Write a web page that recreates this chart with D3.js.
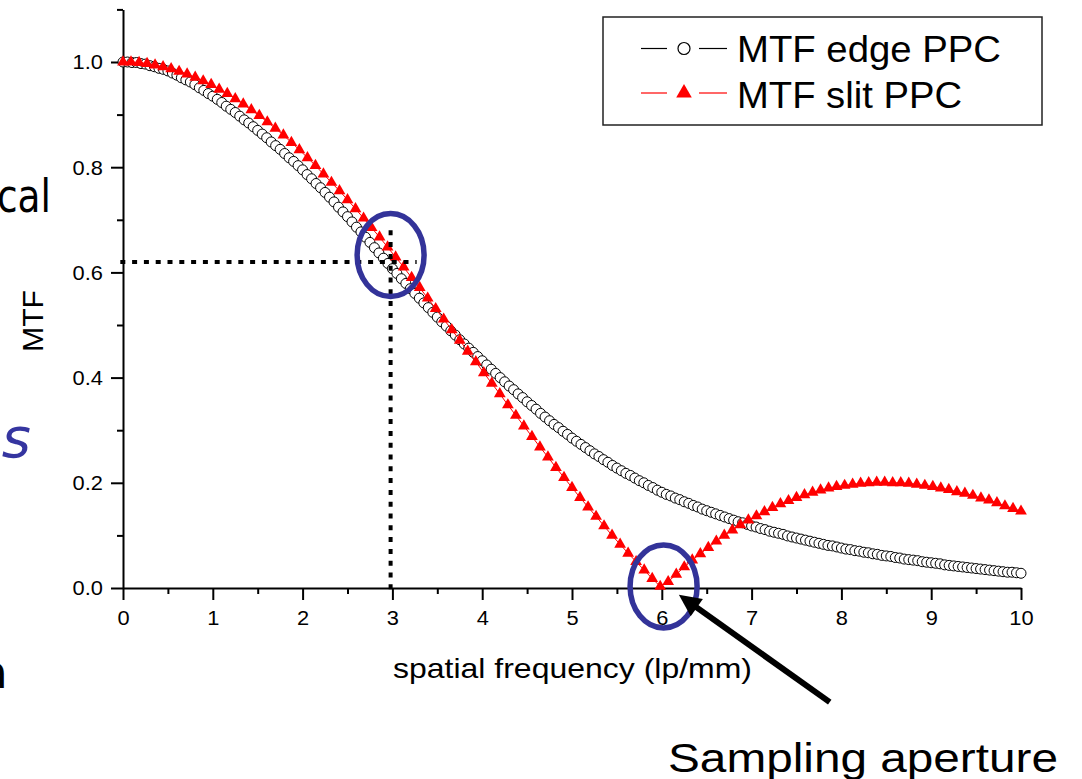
<!DOCTYPE html>
<html><head><meta charset="utf-8">
<script src="https://cdn.jsdelivr.net/npm/d3@7"></script>
<style>body{margin:0;background:#fff;} svg{display:block;}</style>
</head><body>
<svg id="chart" width="1082" height="779"></svg>
<script>
// ---------- data ----------
// edge-method MTF: sampled every 0.05 lp/mm
const edgeFreq = [0, 0.05, 0.1, 0.15, 0.2, 0.25, 0.3, 0.35, 0.4, 0.45,
  0.5, 0.55, 0.6, 0.65, 0.7, 0.75, 0.8, 0.85, 0.9, 0.95,
  1, 1.05, 1.1, 1.15, 1.2, 1.25, 1.3, 1.35, 1.4, 1.45,
  1.5, 1.55, 1.6, 1.65, 1.7, 1.75, 1.8, 1.85, 1.9, 1.95,
  2, 2.05, 2.1, 2.15, 2.2, 2.25, 2.3, 2.35, 2.4, 2.45,
  2.5, 2.55, 2.6, 2.65, 2.7, 2.75, 2.8, 2.85, 2.9, 2.95,
  3, 3.05, 3.1, 3.15, 3.2, 3.25, 3.3, 3.35, 3.4, 3.45,
  3.5, 3.55, 3.6, 3.65, 3.7, 3.75, 3.8, 3.85, 3.9, 3.95,
  4, 4.05, 4.1, 4.15, 4.2, 4.25, 4.3, 4.35, 4.4, 4.45,
  4.5, 4.55, 4.6, 4.65, 4.7, 4.75, 4.8, 4.85, 4.9, 4.95,
  5, 5.05, 5.1, 5.15, 5.2, 5.25, 5.3, 5.35, 5.4, 5.45,
  5.5, 5.55, 5.6, 5.65, 5.7, 5.75, 5.8, 5.85, 5.9, 5.95,
  6, 6.05, 6.1, 6.15, 6.2, 6.25, 6.3, 6.35, 6.4, 6.45,
  6.5, 6.55, 6.6, 6.65, 6.7, 6.75, 6.8, 6.85, 6.9, 6.95,
  7, 7.05, 7.1, 7.15, 7.2, 7.25, 7.3, 7.35, 7.4, 7.45,
  7.5, 7.55, 7.6, 7.65, 7.7, 7.75, 7.8, 7.85, 7.9, 7.95,
  8, 8.05, 8.1, 8.15, 8.2, 8.25, 8.3, 8.35, 8.4, 8.45,
  8.5, 8.55, 8.6, 8.65, 8.7, 8.75, 8.8, 8.85, 8.9, 8.95,
  9, 9.05, 9.1, 9.15, 9.2, 9.25, 9.3, 9.35, 9.4, 9.45,
  9.5, 9.55, 9.6, 9.65, 9.7, 9.75, 9.8, 9.85, 9.9, 9.95,
  10];

const mtfEdge = [1.000, 1.000, 0.999, 0.999, 0.997,
  0.996, 0.993, 0.991, 0.988, 0.986,
  0.983, 0.979, 0.975, 0.970, 0.966,
  0.962, 0.957, 0.951, 0.946, 0.940,
  0.935, 0.929, 0.923, 0.916, 0.910,
  0.904, 0.897, 0.890, 0.884, 0.877,
  0.870, 0.863, 0.856, 0.848, 0.841,
  0.834, 0.826, 0.818, 0.811, 0.803,
  0.795, 0.786, 0.778, 0.769, 0.761,
  0.752, 0.743, 0.734, 0.724, 0.715,
  0.706, 0.696, 0.686, 0.677, 0.667,
  0.657, 0.647, 0.637, 0.627, 0.617,
  0.607, 0.598, 0.588, 0.579, 0.569,
  0.560, 0.551, 0.542, 0.533, 0.524,
  0.515, 0.506, 0.498, 0.489, 0.481,
  0.472, 0.464, 0.456, 0.448, 0.440,
  0.432, 0.424, 0.416, 0.408, 0.400,
  0.392, 0.384, 0.377, 0.369, 0.362,
  0.354, 0.347, 0.340, 0.332, 0.325,
  0.318, 0.311, 0.305, 0.298, 0.292,
  0.285, 0.279, 0.273, 0.267, 0.261,
  0.255, 0.250, 0.244, 0.239, 0.233,
  0.228, 0.223, 0.218, 0.214, 0.209,
  0.204, 0.200, 0.195, 0.191, 0.186,
  0.182, 0.178, 0.175, 0.171, 0.168,
  0.164, 0.161, 0.157, 0.154, 0.150,
  0.147, 0.144, 0.141, 0.138, 0.135,
  0.132, 0.129, 0.126, 0.124, 0.121,
  0.118, 0.116, 0.113, 0.111, 0.108,
  0.106, 0.104, 0.102, 0.099, 0.097,
  0.095, 0.093, 0.091, 0.089, 0.087,
  0.085, 0.083, 0.081, 0.080, 0.078,
  0.076, 0.074, 0.073, 0.071, 0.070,
  0.068, 0.067, 0.065, 0.064, 0.062,
  0.061, 0.060, 0.058, 0.057, 0.055,
  0.054, 0.053, 0.052, 0.050, 0.049,
  0.048, 0.047, 0.046, 0.044, 0.043,
  0.042, 0.041, 0.040, 0.039, 0.038,
  0.037, 0.036, 0.035, 0.034, 0.033,
  0.032, 0.031, 0.030, 0.030, 0.029,
  0.028];

// slit-method MTF: sampled about every 0.089 lp/mm
const slitFreq = [0, 0.089, 0.179, 0.268, 0.357, 0.446, 0.536, 0.625, 0.714, 0.804,
  0.893, 0.982, 1.071, 1.161, 1.250, 1.339, 1.429, 1.518, 1.607, 1.696,
  1.786, 1.875, 1.964, 2.054, 2.143, 2.232, 2.321, 2.411, 2.500, 2.589,
  2.679, 2.768, 2.857, 2.946, 3.036, 3.125, 3.214, 3.304, 3.393, 3.482,
  3.571, 3.661, 3.750, 3.839, 3.929, 4.018, 4.107, 4.196, 4.286, 4.375,
  4.464, 4.554, 4.643, 4.732, 4.821, 4.911, 5.000, 5.089, 5.179, 5.268,
  5.357, 5.446, 5.536, 5.625, 5.714, 5.804, 5.893, 5.982, 6.071, 6.161,
  6.250, 6.339, 6.429, 6.518, 6.607, 6.696, 6.786, 6.875, 6.964, 7.054,
  7.143, 7.232, 7.321, 7.411, 7.500, 7.589, 7.679, 7.768, 7.857, 7.946,
  8.036, 8.125, 8.214, 8.304, 8.393, 8.482, 8.571, 8.661, 8.750, 8.839,
  8.929, 9.018, 9.107, 9.196, 9.286, 9.375, 9.464, 9.554, 9.643, 9.732,
  9.821, 9.911, 10.000];

const mtfSlit = [1.000, 1.000, 0.999, 0.997, 0.994, 0.991, 0.987, 0.982, 0.977, 0.971,
  0.964, 0.957, 0.948, 0.940, 0.930, 0.920, 0.909, 0.898, 0.886, 0.874,
  0.861, 0.847, 0.833, 0.818, 0.803, 0.787, 0.771, 0.755, 0.738, 0.721,
  0.703, 0.685, 0.667, 0.648, 0.629, 0.610, 0.590, 0.571, 0.551, 0.531,
  0.511, 0.491, 0.471, 0.450, 0.430, 0.409, 0.389, 0.369, 0.348, 0.328,
  0.308, 0.288, 0.268, 0.249, 0.229, 0.210, 0.191, 0.172, 0.154, 0.136,
  0.118, 0.100, 0.083, 0.066, 0.050, 0.034, 0.018, 0.003, 0.012, 0.026,
  0.040, 0.053, 0.065, 0.077, 0.089, 0.100, 0.110, 0.120, 0.129, 0.137,
  0.145, 0.153, 0.160, 0.166, 0.172, 0.177, 0.182, 0.186, 0.190, 0.193,
  0.195, 0.197, 0.199, 0.200, 0.201, 0.201, 0.200, 0.200, 0.199, 0.197,
  0.195, 0.193, 0.190, 0.187, 0.183, 0.180, 0.176, 0.171, 0.167, 0.162,
  0.156, 0.151, 0.146];

const xTicks = [0, 1, 2, 3, 4, 5, 6, 7, 8, 9, 10];
const xMinorTicks = [0.5, 1.5, 2.5, 3.5, 4.5, 5.5, 6.5, 7.5, 8.5, 9.5];
const yTicks = [0.0, 0.2, 0.4, 0.6, 0.8, 1.0];
const yMinorTicks = [0.1, 0.3, 0.5, 0.7, 0.9, 1.1];
const seriesNames = ["MTF edge PPC", "MTF slit PPC"];
const xTitle = "spatial frequency (lp/mm)";
const yTitle = "MTF";
const annotationText = "Sampling aperture";
const slideFragments = ["cal", "es", "a"];

// annotation geometry in data units
const guideH = [[-0.03, 0.62], [3.27, 0.62]];
const guideV = [[2.98, 0.68], [2.98, -0.005]];
const highlightCentres = [[2.98, 0.633], [6.02, 0.003]];
const arrowFrom = [7.87, -0.217];
const arrowTo = [6.19, -0.013];

// ---------- drawing ----------
const svg = d3.select("#chart");
const FONT = "'Liberation Sans', Arial, Helvetica, sans-serif";
const x = d3.scaleLinear().domain([0, 10]).range([123, 1021]);
const y = d3.scaleLinear().domain([0, 1.1]).range([588, 9.4]);

// slide text fragments cut by the left edge (as in the reference)
svg.append("text").attr("x", -3).attr("y", 212).attr("textLength", 54)
  .attr("lengthAdjust", "spacingAndGlyphs")
  .style("font-family", "'DejaVu Sans', sans-serif").style("font-size", "47px")
  .attr("fill", "#000").text(slideFragments[0]);
svg.append("text").attr("x", 31).attr("y", 457).attr("text-anchor", "end")
  .style("font-family", "'DejaVu Sans', sans-serif").style("font-size", "56px")
  .style("font-style", "italic").attr("fill", "#3535a0").text(slideFragments[1]);
svg.append("text").attr("x", 8).attr("y", 688).attr("text-anchor", "end")
  .style("font-family", "'DejaVu Sans', sans-serif").style("font-size", "46px")
  .attr("fill", "#000").text(slideFragments[2]);

function styleAxis(g) {
  g.selectAll("path, line").attr("stroke", "#000").attr("stroke-width", 2);
}
// minor ticks
svg.append("g").attr("transform", "translate(0,588)")
  .call(d3.axisBottom(x).tickValues(xMinorTicks).tickSize(6).tickSizeOuter(0).tickFormat(""))
  .call(g => g.select(".domain").remove()).call(styleAxis);
svg.append("g").attr("transform", "translate(123,0)")
  .call(d3.axisLeft(y).tickValues(yMinorTicks).tickSize(6).tickSizeOuter(0).tickFormat(""))
  .call(g => g.select(".domain").remove()).call(styleAxis);
// major axes
const gx = svg.append("g").attr("transform", "translate(0,588)")
  .call(d3.axisBottom(x).tickValues(xTicks).tickSize(12).tickSizeOuter(0).tickFormat(d3.format("d")))
  .call(styleAxis);
gx.selectAll("text").attr("y", 23).attr("dy", "0.71em")
  .attr("transform", "scale(1.12,1)")
  .style("font-family", FONT).style("font-size", "19.5px").attr("fill", "#000");
const gy = svg.append("g").attr("transform", "translate(123,0)")
  .call(d3.axisLeft(y).tickValues(yTicks).tickSize(12).tickSizeOuter(0).tickFormat(d3.format(".1f")))
  .call(styleAxis);
gy.selectAll("text").attr("x", -18).attr("dy", "0.35em")
  .attr("transform", "scale(1.12,1)")
  .style("font-family", FONT).style("font-size", "19.5px").attr("fill", "#000");

// axis titles
svg.append("text").attr("x", 572.5).attr("y", 678).attr("text-anchor", "middle")
  .attr("textLength", 359).attr("lengthAdjust", "spacingAndGlyphs")
  .style("font-family", FONT).style("font-size", "28px").text(xTitle);
svg.append("text").attr("transform", "translate(43,321) rotate(-90)")
  .attr("text-anchor", "middle").attr("textLength", 62).attr("lengthAdjust", "spacingAndGlyphs")
  .style("font-family", FONT).style("font-size", "30px").text(yTitle);

// series
const edgePts = edgeFreq.map((f, i) => [f, mtfEdge[i]]);
const slitPts = slitFreq.map((f, i) => [f, mtfSlit[i]]);
const line = d3.line().x(d => x(d[0])).y(d => y(d[1]));

svg.append("path").datum(edgePts).attr("d", line)
  .attr("fill", "none").attr("stroke", "#000").attr("stroke-width", 1);
svg.append("g").selectAll("circle").data(edgePts).join("circle")
  .attr("cx", d => x(d[0])).attr("cy", d => y(d[1])).attr("r", 5)
  .attr("fill", "#fff").attr("stroke", "#000").attr("stroke-width", 1);

svg.append("path").datum(slitPts).attr("d", line)
  .attr("fill", "none").attr("stroke", "#ff0000").attr("stroke-width", 1);
const tri = d3.symbol().type(d3.symbolTriangle).size(60);
svg.append("g").selectAll("path").data(slitPts).join("path")
  .attr("d", tri).attr("transform", d => `translate(${x(d[0])},${y(d[1])})`)
  .attr("fill", "#ff0000");

// dotted guides
const gline = d3.line().x(d => x(d[0])).y(d => y(d[1]));
[guideH, guideV].forEach(g => {
  svg.append("path").attr("d", gline(g)).attr("fill", "none")
    .attr("stroke", "#000").attr("stroke-width", 4).attr("stroke-dasharray", "5,6.8");
});

// highlight ellipses
svg.append("g").selectAll("ellipse").data(highlightCentres).join("ellipse")
  .attr("cx", d => x(d[0])).attr("cy", d => y(d[1])).attr("rx", 33.5).attr("ry", 41.5)
  .attr("fill", "none").attr("stroke", "#333399").attr("stroke-width", 5.5);

// arrow
const ax0 = x(arrowFrom[0]), ay0 = y(arrowFrom[1]);
const ax1 = x(arrowTo[0]), ay1 = y(arrowTo[1]);
const dx = ax0 - ax1, dy = ay0 - ay1, len = Math.hypot(dx, dy);
const ux = dx / len, uy = dy / len, px = -uy, py = ux;
const headL = 22, headW = 10.5;
const bx = ax1 + ux * headL, by = ay1 + uy * headL;
svg.append("line").attr("x1", ax0).attr("y1", ay0).attr("x2", bx - ux * 2).attr("y2", by - uy * 2)
  .attr("stroke", "#000").attr("stroke-width", 6);
svg.append("path")
  .attr("d", `M${ax1},${ay1}L${bx + px * headW},${by + py * headW}L${bx - px * headW},${by - py * headW}Z`)
  .attr("fill", "#000");

// annotation text
svg.append("text").attr("x", 668).attr("y", 772).attr("textLength", 390)
  .attr("lengthAdjust", "spacingAndGlyphs")
  .style("font-family", FONT).style("font-size", "40px").text(annotationText);

// legend
const lg = svg.append("g");
lg.append("rect").attr("x", 603).attr("y", 17).attr("width", 439).attr("height", 108)
  .attr("fill", "#fff").attr("stroke", "#222").attr("stroke-width", 1.5);
const rows = [
  {name: seriesNames[0], cy: 48.5, base: 62, color: "#000", len: 264, sym: "circle"},
  {name: seriesNames[1], cy: 93, base: 108, color: "#ff0000", len: 225, sym: "triangle"}
];
rows.forEach(r => {
  lg.append("line").attr("x1", 641).attr("x2", 667).attr("y1", r.cy).attr("y2", r.cy)
    .attr("stroke", r.color).attr("stroke-width", 1.2);
  lg.append("line").attr("x1", 699).attr("x2", 727).attr("y1", r.cy).attr("y2", r.cy)
    .attr("stroke", r.color).attr("stroke-width", 1.2);
  if (r.sym === "circle") {
    lg.append("circle").attr("cx", 684).attr("cy", r.cy).attr("r", 6)
      .attr("fill", "#fff").attr("stroke", "#000").attr("stroke-width", 1.2);
  } else {
    lg.append("path").attr("d", d3.symbol().type(d3.symbolTriangle).size(105)())
      .attr("transform", `translate(684,${r.cy})`).attr("fill", "#ff0000");
  }
  lg.append("text").attr("x", 737).attr("y", r.base).attr("textLength", r.len)
    .attr("lengthAdjust", "spacingAndGlyphs")
    .style("font-family", FONT).style("font-size", "37.5px").text(r.name);
});
</script>
</body></html>
